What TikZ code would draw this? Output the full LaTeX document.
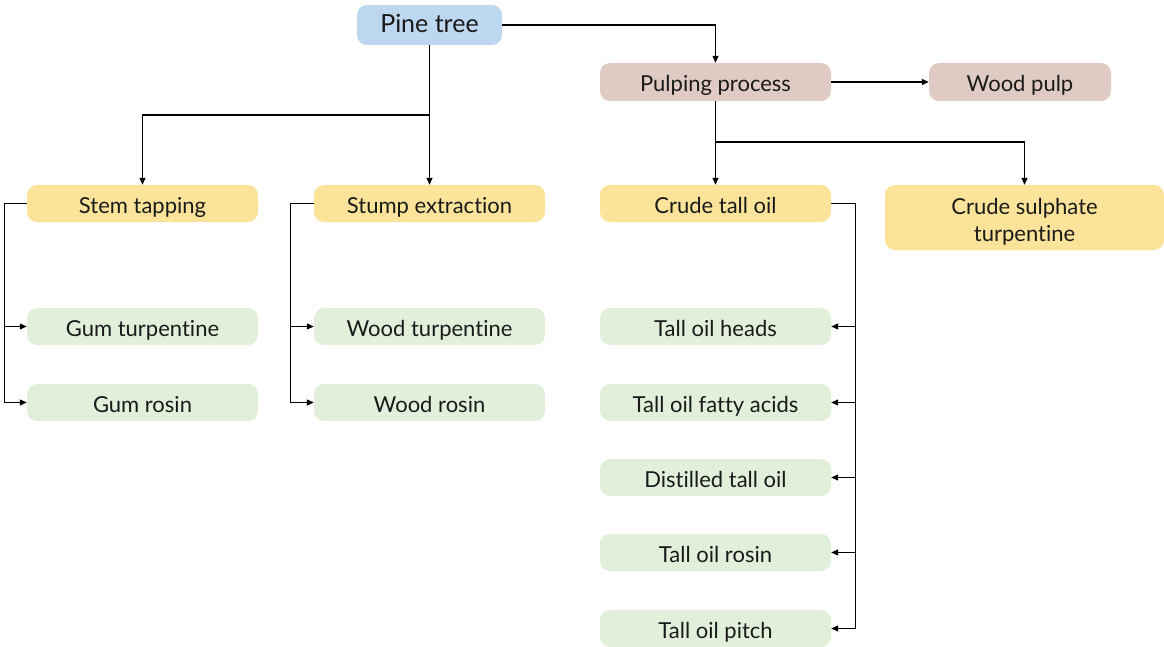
\documentclass[tikz,border=0pt]{standalone}
\usepackage{fontspec}
\setmainfont{Lato}[Ligatures=NoCommon]
\usetikzlibrary{arrows.meta}
\definecolor{cblue}{HTML}{BDD7EE}
\definecolor{cpink}{HTML}{E0CBC4}
\definecolor{cyellow}{HTML}{FBE49A}
\definecolor{cgreen}{HTML}{E2EFDA}
\definecolor{ctext}{HTML}{1A1A1A}
\begin{document}
\begin{tikzpicture}[x=1pt,y=-1pt,
  box/.style={rounded corners=10pt, minimum width=231pt, minimum height=37pt, inner sep=0pt,
    font=\fontsize{22}{26}\selectfont, text=ctext, text height=20pt, text depth=0pt},
  bluebox/.style={box, fill=cblue, minimum width=145pt, minimum height=40pt,
    font=\fontsize{25}{29}\selectfont, text height=15pt},
  pinkbox/.style={box, fill=cpink, minimum height=38pt},
  yellowbox/.style={box, fill=cyellow},
  greenbox/.style={box, fill=cgreen},
  conn/.style={line width=1.2pt, draw=black},
  arr/.style={conn, -{Triangle[length=7pt,width=6pt]}}
]
\useasboundingbox (0,0) rectangle (1164,647);

\node[bluebox] (pine) at (429.5,25) {Pine tree};
\node[pinkbox] (pulp) at (715.5,82) {Pulping process};
\node[pinkbox, minimum width=182pt] (wpulp) at (1020,82) {Wood pulp};

\node[yellowbox] (stem) at (142.5,203.5) {Stem tapping};
\node[yellowbox] (stump) at (429.5,203.5) {Stump extraction};
\node[yellowbox] (cto) at (715.5,203.5) {Crude tall oil};
\node[yellowbox, minimum width=279pt, minimum height=65pt, align=center,
  font=\fontsize{22}{27}\selectfont, text height=47pt, text depth=0pt] (cst) at (1024.5,217.5) {Crude sulphate\\turpentine};

\node[greenbox] (gt) at (142.5,326.5) {Gum turpentine};
\node[greenbox] (gr) at (142.5,402.5) {Gum rosin};
\node[greenbox] (wt) at (429.5,326.5) {Wood turpentine};
\node[greenbox] (wr) at (429.5,402.5) {Wood rosin};
\node[greenbox] (toh) at (715.5,326.5) {Tall oil heads};
\node[greenbox] (tofa) at (715.5,402.5) {Tall oil fatty acids};
\node[greenbox] (dto) at (715.5,477.5) {Distilled tall oil};
\node[greenbox] (tor) at (715.5,552.5) {Tall oil rosin};
\node[greenbox] (top) at (715.5,628.5) {Tall oil pitch};

\coordinate (j1) at (429.5,115);
\coordinate (j2) at (715.5,142);

\draw[arr] (pine.east) -| (pulp.north);
\draw[conn] (pine.south) -- (j1);
\draw[arr] (j1) -| (stem.north);
\draw[arr] (j1) -- (stump.north);

\draw[arr] (pulp.east) -- (wpulp.west);
\draw[arr] (pulp.south) -- (cto.north);
\draw[arr] (j2) -| (cst.north);

\draw[arr] (stem.west) -- ++(-22,0) |- (gt.west);
\draw[arr] (stem.west) -- ++(-22,0) |- (gr.west);
\draw[arr] (stump.west) -- ++(-23,0) |- (wt.west);
\draw[arr] (stump.west) -- ++(-23,0) |- (wr.west);

\foreach \n in {toh,tofa,dto,tor,top}
  \draw[arr] (cto.east) -- ++(24,0) |- (\n.east);
\end{tikzpicture}
\end{document}
